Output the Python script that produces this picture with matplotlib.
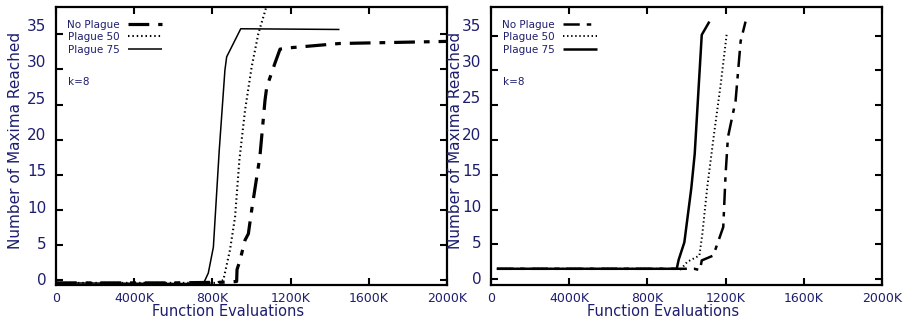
import numpy as np
import matplotlib
matplotlib.use('Agg')
import matplotlib.pyplot as plt

# values in thousands of function evaluations
xticks = [0, 400, 800, 1200, 1600, 2000]
xticklabels = ['0', '4000K', '800K', '1200K', '1600K', '2000K']
yticks = [0, 5, 10, 15, 20, 25, 30, 35]
names = ['No Plague', 'Plague 50', 'Plague 75']

# left panel
left_noplague_x = [0, 600, 870, 924, 926, 941, 967, 984, 1001, 1043, 1069, 1078, 1120, 1146, 1200, 1450, 2000]
left_noplague_y = [-0.4, -0.4, -0.3, -0.2, 1.5, 2.8, 5.7, 6.6, 10.0, 17.6, 25.6, 27.5, 30.9, 32.9, 33.1, 33.7, 34.0]
left_p50_x = [0, 820, 856, 890, 916, 938, 967, 1001, 1035, 1080]
left_p50_y = [-0.4, -0.4, 0.0, 4.3, 9.0, 17.1, 24.2, 30.4, 35.1, 39.3]
left_p75_x = [0, 754, 779, 805, 835, 864, 873, 945, 1450]
left_p75_y = [-0.4, -0.5, 1.0, 4.7, 18.5, 29.9, 31.8, 35.8, 35.7]

# right panel
right_noplague_x = [30, 1040, 1069, 1078, 1137, 1188, 1200, 1212, 1251, 1277, 1302]
right_noplague_y = [1.5, 1.5, 1.3, 2.7, 3.4, 7.5, 15.1, 20.4, 25.6, 34.2, 37.0]
right_p50_x = [30, 960, 970, 1004, 1066, 1081, 1106, 1141, 1175, 1206]
right_p50_y = [1.5, 1.5, 1.4, 2.5, 3.4, 6.5, 13.2, 20.9, 28.0, 35.3]
right_p75_x = [30, 950, 960, 989, 1021, 1025, 1042, 1078, 1117]
right_p75_y = [1.5, 1.5, 2.8, 5.3, 12.3, 13.2, 18.0, 35.1, 37.0]

navy = '#1e1e6e'
dashdot = (0, (6.5, 2.8, 1.8, 2.8))
dotted = (0, (0.7, 1.4))

fig = plt.figure(figsize=(9.14, 3.26), dpi=100)


def panel(rect, series, widths, ylim, label_ylim, ylabel_x):
    ax = fig.add_axes(rect)
    styles = [dashdot, dotted, '-']
    for (x, y), name, ls, lw in zip(series, names, styles, widths):
        ax.plot(x, y, color='black', linestyle=ls, linewidth=lw, label=name,
                dash_capstyle='butt', solid_capstyle='butt')
    ax.set_xlim(0, 2000)
    ax.set_ylim(*ylim)
    ax.set_xticks(xticks)
    ax.set_xticklabels(xticklabels)
    ax.set_yticks(yticks)
    ax.set_yticklabels([])
    for s in ax.spines.values():
        s.set_linewidth(1.6)

    # tick labels sit on their own scale (as in the scanned original)
    lab = ax.twinx()
    lab.set_ylim(*label_ylim)
    lab.set_yticks(yticks)
    lab.yaxis.tick_left()
    lab.tick_params(axis='y', length=0, pad=7, labelsize=11, labelcolor=navy)
    for s in lab.spines.values():
        s.set_visible(False)

    ax.tick_params(direction='in', length=5, width=1.5, top=True, right=True,
                   left=True, bottom=True)
    ax.tick_params(axis='x', labelsize=9, labelcolor=navy, pad=5)

    ax.set_xlabel('Function Evaluations', fontsize=10.5, color=navy)
    ax.xaxis.set_label_coords(0.44, -0.07)
    ax.set_ylabel('Number of Maxima Reached', fontsize=11, color=navy)
    ax.yaxis.set_label_coords(ylabel_x, 0.52)

    leg = ax.legend(loc='upper left', bbox_to_anchor=(0.028, 0.955), frameon=False,
                    markerfirst=False, fontsize=7.5, handlelength=3.3,
                    handletextpad=0.8, labelspacing=0.25, borderpad=0, borderaxespad=0)
    for t in leg.get_texts():
        t.set_color(navy)
    ax.text(0.03, 0.73, 'k=8', transform=ax.transAxes, fontsize=7.5, color=navy,
            va='center', ha='left')
    return ax


panel([56 / 914, 41 / 326, 391 / 914, 278 / 326],
      [(left_noplague_x, left_noplague_y), (left_p50_x, left_p50_y), (left_p75_x, left_p75_y)],
      [2.3, 1.5, 1.1], (-0.7, 38.9), (-0.78, 37.45), -0.085)

panel([491 / 914, 41 / 326, 391 / 914, 278 / 326],
      [(right_noplague_x, right_noplague_y), (right_p50_x, right_p50_y), (right_p75_x, right_p75_y)],
      [1.8, 1.4, 1.8], (-0.83, 39.1), (-0.92, 37.5), -0.072)

fig.savefig('out.png', dpi=100)
